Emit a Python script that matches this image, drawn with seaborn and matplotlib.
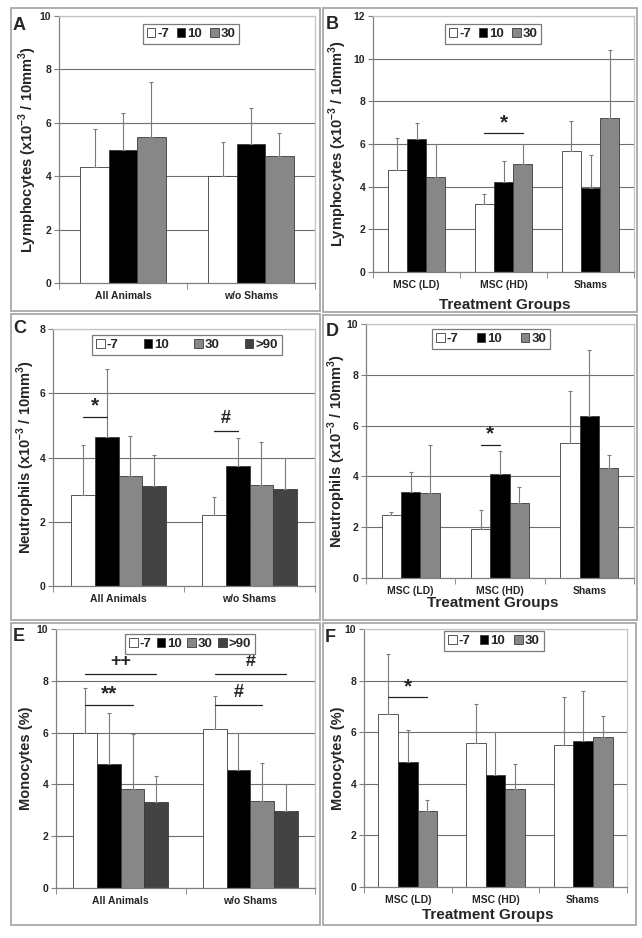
import numpy as np
import pandas as pd
import seaborn as sns
import matplotlib.pyplot as plt
from matplotlib.patches import Rectangle

W, H = 642, 938

days3 = ['-7', '10', '30']
days4 = ['-7', '10', '30', '>90']
cohort_groups = ['All Animals', 'w/o Shams']
treat_groups = ['MSC (LD)', 'MSC (HD)', 'Shams']

# rows = groups, columns = days
lymph_cohort_mean = [[4.33, 4.98, 5.46], [4.01, 5.22, 4.76]]
lymph_cohort_sd = [[1.43, 1.39, 2.08], [1.28, 1.33, 0.84]]
lymph_treat_mean = [[4.77, 6.22, 4.47], [3.20, 4.23, 5.05], [5.69, 3.95, 7.22]]
lymph_treat_sd = [[1.50, 0.78, 1.51], [0.44, 0.97, 0.93], [1.40, 1.55, 3.20]]
neut_cohort_mean = [[2.84, 4.64, 3.41, 3.10], [2.21, 3.73, 3.15, 3.01]]
neut_cohort_sd = [[1.54, 2.11, 1.26, 0.98], [0.57, 0.87, 1.32, 0.99]]
neut_treat_mean = [[2.48, 3.40, 3.33], [1.93, 4.08, 2.95], [5.33, 6.37, 4.35]]
neut_treat_sd = [[0.13, 0.76, 1.92], [0.76, 0.92, 0.65], [2.02, 2.62, 0.51]]
mono_cohort_mean = [[6.00, 4.80, 3.84, 3.32], [6.12, 4.57, 3.35, 2.99]]
mono_cohort_sd = [[1.74, 1.94, 2.11, 1.02], [1.31, 1.40, 1.48, 1.01]]
mono_treat_mean = [[6.70, 4.84, 2.94], [5.57, 4.34, 3.80], [5.51, 5.66, 5.81]]
mono_treat_sd = [[2.35, 1.25, 0.45], [1.52, 1.66, 0.95], [1.85, 1.94, 0.83]]

# significance bars: (group, first day, last day, y, mark)
sig_a = []
sig_b = [(1, 0, 2, 6.5, '*')]
sig_c = [(0, 0, 1, 5.27, '*'), (1, 0, 1, 4.82, '#')]
sig_d = [(1, 0, 1, 5.25, '*')]
sig_e = [(0, 0, 3, 8.27, '++'), (0, 0, 2, 7.08, '**'),
         (1, 0, 3, 8.27, '#'), (1, 0, 2, 7.06, '#')]
sig_f = [(0, 0, 2, 7.35, '*')]

palette = {'-7': 'white', '10': 'black', '30': '#878787', '>90': '#434343'}

sns.set_style('white')
plt.rcParams['font.family'] = ['Liberation Sans', 'DejaVu Sans']
plt.rcParams['font.weight'] = 'bold'
plt.rcParams['mathtext.fontset'] = 'custom'
plt.rcParams['mathtext.rm'] = 'Liberation Sans:bold'
plt.rcParams['mathtext.bf'] = 'Liberation Sans:bold'

lymph_lab = r'Lymphocytes (x10$^{-3}$ / 10mm$^{3}$)'
neut_lab = r'Neutrophils (x10$^{-3}$ / 10mm$^{3}$)'
mono_lab = 'Monocytes (%)'

fig = plt.figure(figsize=(W / 100, H / 100), dpi=100)

# panel frames (pixels: left, right, top, bottom)
for l, r, t, b in [(11, 320, 8, 311), (323, 637, 8, 312),
                   (11, 320, 314, 620), (323, 637, 315, 620),
                   (11, 320, 623, 925), (323, 636, 623, 925)]:
    fig.patches.append(Rectangle((l / W, 1 - b / H), (r - l) / W, (b - t) / H,
                                 transform=fig.transFigure, fill=False,
                                 edgecolor='#a8a8a8', lw=1.3))


def panel(box, groups, days, means, sds, ymax, ylabel, sig,
          width, colsp, leg_xy, ylab_x, xlab_xy=None):
    l, r, t, b = box
    ax = fig.add_axes([l / W, 1 - b / H, (r - l) / W, (b - t) / H])
    rows = []
    for i, g in enumerate(groups):
        for j, d in enumerate(days):
            rows.append({'group': g, 'day': d, 'value': means[i][j]})
    df = pd.DataFrame(rows)
    sns.barplot(data=df, x='group', y='value', hue='day', order=groups,
                hue_order=days, palette=palette, width=width, errorbar=None,
                edgecolor='#3a3a3a', linewidth=0.6, ax=ax)

    centers = {}
    bar_sets = list(ax.containers)
    for j, cont in enumerate(bar_sets):
        for i, bar in enumerate(cont.patches):
            xc = bar.get_x() + bar.get_width() / 2
            centers[(i, j)] = xc
            ax.errorbar(xc, bar.get_height(), yerr=[[0], [sds[i][j]]],
                        fmt='none', ecolor='#7a7a7a', elinewidth=0.8,
                        capsize=1.2, capthick=0.8, zorder=3)

    for g, j0, j1, y, mark in sig:
        x0, x1 = centers[(g, j0)], centers[(g, j1)]
        ax.plot([x0, x1], [y, y], color='#222222', lw=0.9, zorder=4)
        if '*' in mark:
            size, off = 15, 1
        else:
            size, off = 13, 3
        ax.annotate(mark, xy=((x0 + x1) / 2, y), xytext=(0, off),
                    textcoords='offset points', ha='center', va='bottom',
                    fontsize=size, fontweight='bold')

    ax.set_ylim(0, ymax)
    ax.set_yticks(np.arange(0, ymax + 0.1, 2))
    ax.set_xlim(-0.5, len(groups) - 0.5)
    ax.set_xticks(np.arange(-0.5, len(groups), 1), minor=True)
    ax.tick_params(axis='x', which='major', length=0, pad=6, labelsize=7.5)
    ax.tick_params(axis='x', which='minor', length=4, color='#808080',
                   direction='out', bottom=True)
    ax.tick_params(axis='y', length=3.5, color='#808080', direction='out',
                   left=True, labelsize=7.5, pad=2)
    for lab in ax.get_xticklabels() + ax.get_yticklabels():
        lab.set_fontweight('bold')
    ax.yaxis.grid(True, color='#6e6e6e', lw=0.8)
    ax.set_axisbelow(True)
    for s in ['left', 'bottom']:
        ax.spines[s].set_color('#808080')
    for s in ['top', 'right']:
        ax.spines[s].set_color('#c4c4c4')
    for s in ax.spines.values():
        s.set_linewidth(0.9)

    ax.set_ylabel(ylabel, fontsize=10.5, fontweight='bold', va='center')
    ax.yaxis.set_label_coords((ylab_x - l) / (r - l), 0.5)
    if xlab_xy is None:
        ax.set_xlabel('')
    else:
        ax.set_xlabel('Treatment Groups', fontsize=11, fontweight='bold',
                      va='center')
        ax.xaxis.set_label_coords((xlab_xy[0] - l) / (r - l),
                                  (b - xlab_xy[1]) / (b - t))

    handles, labels = ax.get_legend_handles_labels()
    ax.legend(handles, labels, loc='upper center', ncol=len(days),
              bbox_to_anchor=((leg_xy[0] - l) / (r - l), (b - leg_xy[1]) / (b - t)),
              borderaxespad=0, frameon=True, fancybox=False, edgecolor='#7a7a7a',
              framealpha=1, handlelength=0.65, handleheight=0.65,
              handletextpad=0.15, columnspacing=colsp, borderpad=0.3,
              prop={'size': 9.5, 'weight': 'bold'})
    ax.get_legend().get_frame().set_linewidth(0.9)
    return ax


panel((59, 315, 16, 283), cohort_groups, days3, lymph_cohort_mean,
      lymph_cohort_sd, 10, lymph_lab, sig_a, 0.665, 0.6, (191, 24), 28)
panel((373, 634, 16, 272), treat_groups, days3, lymph_treat_mean,
      lymph_treat_sd, 12, lymph_lab, sig_b, 0.66, 0.6, (493, 24), 338,
      (505, 305))
panel((53, 315, 329, 586), cohort_groups, days4, neut_cohort_mean,
      neut_cohort_sd, 8, neut_lab, sig_c, 0.73, 1.9, (187, 335), 26)
panel((366, 634, 324, 578), treat_groups, days3, neut_treat_mean,
      neut_treat_sd, 10, neut_lab, sig_d, 0.65, 1.4, (491, 329), 337,
      (493, 603))
panel((56, 315, 629, 888), cohort_groups, days4, mono_cohort_mean,
      mono_cohort_sd, 10, mono_lab, sig_e, 0.73, 0.4, (190, 634), 26)
panel((364, 627, 629, 887), treat_groups, days3, mono_treat_mean,
      mono_treat_sd, 10, mono_lab, sig_f, 0.67, 0.7, (494, 631), 338,
      (488, 915))

# panel letters (pixel positions of the glyph top-left)
for letter, x, y in [('A', 13, 17), ('B', 326, 16), ('C', 13, 320),
                     ('D', 326, 323), ('E', 13, 628), ('F', 325, 629)]:
    fig.text(x / W, 1 - y / H, letter, fontsize=13, fontweight='bold',
             ha='left', va='top')

fig.savefig('out.png', dpi=100)
